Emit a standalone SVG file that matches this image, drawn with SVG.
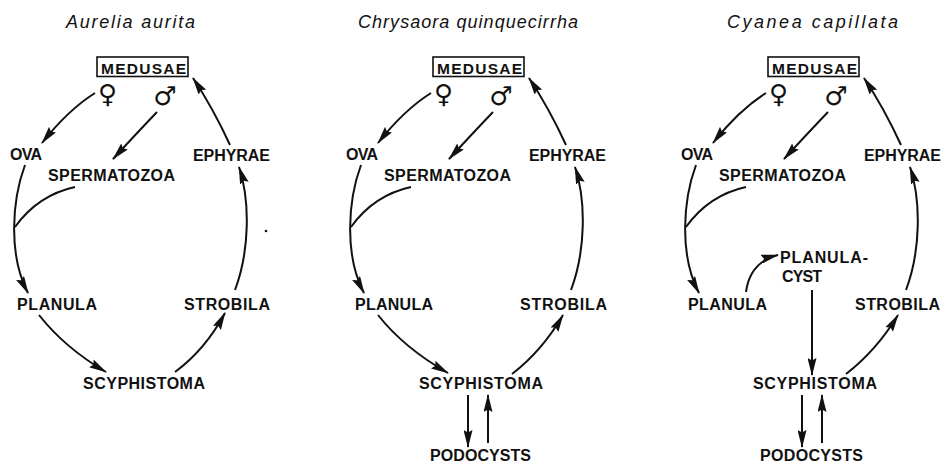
<svg xmlns="http://www.w3.org/2000/svg" width="943" height="464" viewBox="0 0 943 464">
<defs>
<style>
.title{font-family:"Liberation Sans",Arial,sans-serif;font-style:italic;font-size:18px;fill:#111}
.lbl{font-family:"Liberation Sans",Arial,sans-serif;font-weight:bold;font-size:16px;fill:#111}
.med{font-family:"Liberation Sans",Arial,sans-serif;font-weight:bold;font-size:15.5px;fill:#111}
.box{fill:none;stroke:#111;stroke-width:1.6}
.sym{font-family:"DejaVu Sans",sans-serif;font-size:26px;fill:#111;text-anchor:middle}
.c{fill:none;stroke:#111;stroke-width:2;marker-end:url(#ah)}
.n{fill:none;stroke:#111;stroke-width:2}
</style>
<marker id="ah" viewBox="0 0 18 9" refX="17" refY="4.5" markerWidth="18" markerHeight="9" markerUnits="userSpaceOnUse" orient="auto">
<path d="M0,0 L18,4.5 L0,9 L2.5,4.5 z" fill="#111"/>
</marker>
</defs>
<rect width="943" height="464" fill="#fff"/>

<g id="titles">
<text class="title" x="66" y="28" textLength="129" lengthAdjust="spacing">Aurelia aurita</text>
<text class="title" x="358" y="28" textLength="220" lengthAdjust="spacing">Chrysaora quinquecirrha</text>
<text class="title" x="727" y="28" textLength="171" lengthAdjust="spacing">Cyanea capillata</text>
</g>

<!-- Panel 1: Aurelia aurita -->
<g id="p1">
<g id="p1-medusae"><rect class="box" x="97" y="57" width="91" height="19.5"/><text class="med" x="101" y="73.5" textLength="85" lengthAdjust="spacing">MEDUSAE</text>
<text class="sym" x="107.5" y="103">♀</text><text class="sym" x="165" y="105">♂</text></g>
<g id="p1-ova"><text class="lbl" x="10" y="160" textLength="32" lengthAdjust="spacing">OVA</text></g>
<g id="p1-sperm"><text class="lbl" x="48" y="181" textLength="127" lengthAdjust="spacing">SPERMATOZOA</text></g>
<g id="p1-ephyrae"><text class="lbl" x="193" y="161" textLength="77" lengthAdjust="spacing">EPHYRAE</text></g>
<g id="p1-planula"><text class="lbl" x="17" y="310" textLength="80" lengthAdjust="spacing">PLANULA</text></g>
<g id="p1-strobila"><text class="lbl" x="184" y="310" textLength="86" lengthAdjust="spacing">STROBILA</text></g>
<g id="p1-scyph"><text class="lbl" x="83" y="389" textLength="122" lengthAdjust="spacing">SCYPHISTOMA</text></g>
<circle cx="266" cy="231" r="1.3" fill="#111"/>
</g>

<!-- Panel 2: Chrysaora quinquecirrha -->
<g id="p2" transform="translate(336,0)">
<g id="p2-medusae"><rect class="box" x="97" y="57" width="91" height="19.5"/><text class="med" x="101" y="73.5" textLength="85" lengthAdjust="spacing">MEDUSAE</text>
<text class="sym" x="107.5" y="103">♀</text><text class="sym" x="165" y="105">♂</text></g>
<g id="p2-ova"><text class="lbl" x="10" y="160" textLength="32" lengthAdjust="spacing">OVA</text></g>
<g id="p2-sperm"><text class="lbl" x="48" y="181" textLength="127" lengthAdjust="spacing">SPERMATOZOA</text></g>
<g id="p2-ephyrae"><text class="lbl" x="193" y="161" textLength="77" lengthAdjust="spacing">EPHYRAE</text></g>
<g id="p2-planula"><text class="lbl" x="19" y="310" textLength="78" lengthAdjust="spacing">PLANULA</text></g>
<g id="p2-strobila"><text class="lbl" x="184" y="310" textLength="87" lengthAdjust="spacing">STROBILA</text></g>
<g id="p2-scyph"><text class="lbl" x="83" y="389" textLength="124" lengthAdjust="spacing">SCYPHISTOMA</text></g>
<g id="p2-podo"><text class="lbl" x="94" y="461" textLength="101" lengthAdjust="spacing">PODOCYSTS</text></g>
</g>

<!-- Panel 3: Cyanea capillata -->
<g id="p3" transform="translate(671,0)">
<g id="p3-medusae"><rect class="box" x="97" y="57" width="91" height="19.5"/><text class="med" x="101" y="73.5" textLength="85" lengthAdjust="spacing">MEDUSAE</text>
<text class="sym" x="107.5" y="103">♀</text><text class="sym" x="165" y="105">♂</text></g>
<g id="p3-ova"><text class="lbl" x="10" y="160" textLength="32" lengthAdjust="spacing">OVA</text></g>
<g id="p3-sperm"><text class="lbl" x="48" y="181" textLength="127" lengthAdjust="spacing">SPERMATOZOA</text></g>
<g id="p3-ephyrae"><text class="lbl" x="193" y="161" textLength="77" lengthAdjust="spacing">EPHYRAE</text></g>
<g id="p3-planulacyst"><text class="lbl" x="109" y="263" textLength="88" lengthAdjust="spacing">PLANULA-</text><text class="lbl" x="111" y="282" textLength="40" lengthAdjust="spacing">CYST</text></g>
<g id="p3-planula"><text class="lbl" x="17" y="310" textLength="79" lengthAdjust="spacing">PLANULA</text></g>
<g id="p3-strobila"><text class="lbl" x="184" y="310" textLength="85" lengthAdjust="spacing">STROBILA</text></g>
<g id="p3-scyph"><text class="lbl" x="82" y="389" textLength="124" lengthAdjust="spacing">SCYPHISTOMA</text></g>
<g id="p3-podo"><text class="lbl" x="89" y="461" textLength="103" lengthAdjust="spacing">PODOCYSTS</text></g>
</g>

<g id="connectors">
<g id="c1">
<path class="c" d="M95,93 Q68,110 42,143"/>
<path class="c" d="M157,112 Q136,134 113,159"/>
<path class="c" d="M230,145 Q213,108 193,78"/>
<path class="c" d="M25,165 C12,200 8,255 28,293"/>
<path class="n" d="M75,187 Q38,195 15,227"/>
<path class="c" d="M235,290 C250,250 250,200 239,167"/>
<path class="c" d="M39,315 Q65,348 106,372"/>
<path class="c" d="M175,372 Q205,350 225,313"/>
</g>
<g id="c2" transform="translate(336,0)">
<path class="c" d="M95,93 Q68,110 42,143"/>
<path class="c" d="M157,112 Q136,134 113,159"/>
<path class="c" d="M230,145 Q213,108 193,78"/>
<path class="c" d="M25,165 C12,200 8,255 28,293"/>
<path class="n" d="M75,187 Q38,195 15,227"/>
<path class="c" d="M235,290 C250,250 250,200 239,167"/>
<path class="c" d="M42,315 Q68,348 112,373"/>
<path class="c" d="M176,374 Q206,351 227,315"/>
<path class="c" d="M132,395 L132,447"/>
<path class="c" d="M152,443 L152,395"/>
</g>
<g id="c3" transform="translate(671,0)">
<path class="c" d="M95,93 Q68,110 42,143"/>
<path class="c" d="M157,112 Q136,134 113,159"/>
<path class="c" d="M230,145 Q213,108 193,78"/>
<path class="c" d="M25,165 C12,200 8,255 28,293"/>
<path class="n" d="M75,187 Q38,195 15,227"/>
<path class="c" d="M235,290 C250,250 250,200 239,167"/>
<path class="c" d="M75,292 Q79,262 107,255"/>
<path class="c" d="M141,290 L141,375"/>
<path class="c" d="M175,374 Q205,351 227,315"/>
<path class="c" d="M131,395 L131,447"/>
<path class="c" d="M151,443 L151,395"/>
</g>
</g>
</svg>
